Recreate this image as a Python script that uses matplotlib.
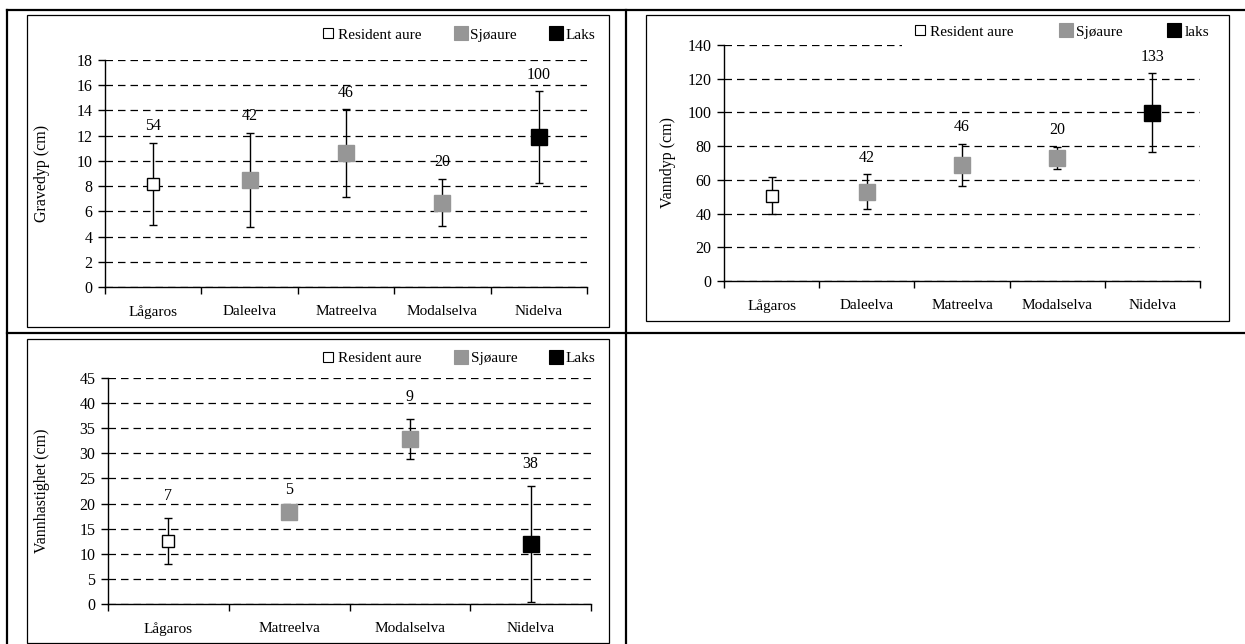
import matplotlib
matplotlib.use("Agg")
import matplotlib.pyplot as plt
from matplotlib.lines import Line2D
from matplotlib.patches import Rectangle

plt.rcParams['font.family'] = ['Liberation Serif', 'DejaVu Serif']
plt.rcParams['font.size'] = 11

# ---------------- data ----------------
GRAY = '#969696'
legend_labels_top_left = ['Resident aure', 'Sjøaure', 'Laks']
legend_labels_top_right = ['Resident aure', 'Sjøaure', 'laks']
legend_labels_bottom = ['Resident aure', 'Sjøaure', 'Laks']

# Gravedyp
grav_rivers = ['Lågaros', 'Daleelva', 'Matreelva', 'Modalselva', 'Nidelva']
grav_mean = [8.2, 8.5, 10.6, 6.7, 11.9]
grav_err = [3.25, 3.75, 3.5, 1.9, 3.65]
grav_n = ['54', '42', '46', '20', '100']
grav_type = [0, 1, 1, 1, 2]

# Vanndyp
vann_rivers = ['Lågaros', 'Daleelva', 'Matreelva', 'Modalselva', 'Nidelva']
vann_mean = [50.6, 53.0, 68.8, 73.1, 99.8]
vann_err = [11.0, 10.4, 12.7, 6.6, 23.5]
vann_n = ['', '42', '46', '20', '133']
vann_type = [0, 1, 1, 1, 2]

# Vannhastighet
hast_rivers = ['Lågaros', 'Matreelva', 'Modalselva', 'Nidelva']
hast_mean = [12.6, 18.4, 32.8, 11.9]
hast_err = [4.6, 0.0, 4.0, 11.6]
hast_n = ['7', '5', '9', '38']
hast_type = [0, 1, 1, 2]

# ---------------- figure ----------------
W, H = 1245, 644
fig = plt.figure(figsize=(W / 100, H / 100), dpi=100)


def fx(px):
    return px / W


def fy(py):
    return 1 - py / H


FACE = ['white', GRAY, 'black']
EDGE = ['black', GRAY, 'black']
MSIZE = [8.5, 11.5, 11.5]


def panel(box, ylim, step, rivers, mean, err, nlab, types, ylabel, ylab_x,
          leg_labels, leg_right_px, leg_y_px, leg_pad, colsp, lab_off):
    x0, x1, ytop, ybot = box
    ax = fig.add_axes([fx(x0), fy(ybot), fx(x1 - x0), (ybot - ytop) / H])
    n = len(rivers)
    centers = [i + 0.5 for i in range(n)]
    ax.set_xlim(0, n)
    ax.set_ylim(0, ylim)
    ax.set_yticks(range(0, ylim + 1, step))
    ax.set_xticks(range(n + 1))
    ax.set_xticklabels([''] * (n + 1))
    ax.set_xticks(centers, minor=True)
    ax.set_xticklabels(rivers, minor=True)
    ax.tick_params(axis='x', which='major', direction='out', length=5, width=1)
    ax.tick_params(axis='x', which='minor', length=0, pad=13, labelsize=11)
    ax.tick_params(axis='y', direction='out', length=5, width=1, pad=4, labelsize=11.5)
    for s in ['top', 'right']:
        ax.spines[s].set_visible(False)
    for s in ['left', 'bottom']:
        ax.spines[s].set_linewidth(1)
    ax.yaxis.grid(True, linestyle=(0, (6, 4)), color='black', linewidth=0.9)
    ax.set_axisbelow(True)
    ax.set_ylabel(ylabel, fontsize=11.5)
    ax.yaxis.set_label_coords(ylab_x, 0.5)

    for i in range(n):
        c = centers[i]
        if err[i] > 0:
            ax.errorbar([c], [mean[i]], yerr=[err[i]], fmt='none', ecolor='black',
                        elinewidth=1, capsize=3, capthick=1, zorder=3)
        t = types[i]
        ax.plot([c], [mean[i]], marker='s', linestyle='none', markersize=MSIZE[t],
                markerfacecolor=FACE[t], markeredgecolor=EDGE[t],
                markeredgewidth=1, zorder=4)
        if nlab[i]:
            top = mean[i] + err[i] if err[i] > 0 else mean[i]
            ax.annotate(nlab[i], (c, top), xytext=(0, lab_off), textcoords='offset points',
                        ha='center', va='bottom', fontsize=11.5, zorder=7)

    handles = [Line2D([], [], marker='s', linestyle='none', markersize=[7, 9.5, 9.5][k],
                      markerfacecolor=FACE[k], markeredgecolor=EDGE[k], markeredgewidth=0.8)
               for k in range(3)]
    leg = ax.legend(handles, leg_labels, ncol=3, loc='center right',
                    bbox_to_anchor=(fx(leg_right_px), fy(leg_y_px)),
                    bbox_transform=fig.transFigure,
                    frameon=True, fancybox=False, edgecolor='none', facecolor='white',
                    framealpha=1, borderpad=leg_pad, handlelength=0.9,
                    handletextpad=0.2, columnspacing=colsp, fontsize=11)
    leg.set_zorder(5)
    return ax


panel((105, 587, 60, 287), 18, 2, grav_rivers, grav_mean, grav_err, grav_n, grav_type,
      'Gravedyp (cm)', -0.114, legend_labels_top_left, 611, 35, 0.5, 2.1, 6)
panel((724, 1200, 45, 281), 140, 20, vann_rivers, vann_mean, vann_err, vann_n, vann_type,
      'Vanndyp (cm)', -0.101, legend_labels_top_right, 1228, 32, 0.75, 2.95, 6)
panel((108, 591, 378, 604), 45, 5, hast_rivers, hast_mean, hast_err, hast_n, hast_type,
      'Vannhastighet (cm)', -0.120, legend_labels_bottom, 608, 358, 0.3, 2.1, 10)

# panel frames
for (x0, x1, y0, y1) in [(27, 609, 15, 327), (646, 1229, 15, 321), (27, 609, 339, 643)]:
    fig.add_artist(Rectangle((fx(x0), fy(y1)), fx(x1 - x0), (y1 - y0) / H,
                             transform=fig.transFigure, fill=False,
                             edgecolor='black', linewidth=0.9))

# table lines
lw = 1.6
fig.add_artist(Line2D([fx(7), 1], [fy(10), fy(10)], color='black', lw=lw, transform=fig.transFigure))
fig.add_artist(Line2D([fx(7), 1], [fy(333), fy(333)], color='black', lw=lw, transform=fig.transFigure))
fig.add_artist(Line2D([fx(7), fx(7)], [fy(10), 0], color='black', lw=lw, transform=fig.transFigure))
fig.add_artist(Line2D([fx(626), fx(626)], [fy(10), 0], color='black', lw=lw, transform=fig.transFigure))

fig.savefig('out.png', dpi=100, facecolor='white')
